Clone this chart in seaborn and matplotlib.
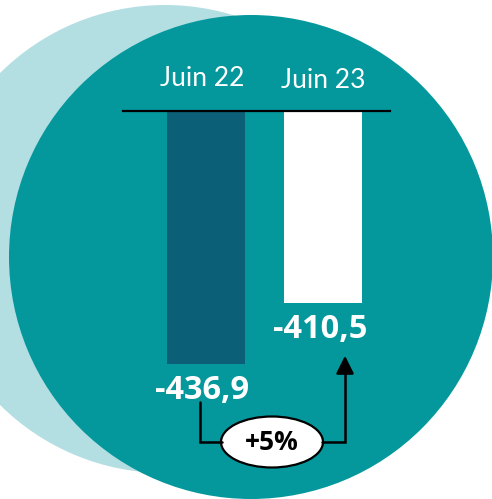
import matplotlib
matplotlib.use("Agg")
import matplotlib.pyplot as plt
from matplotlib.patches import Circle, Ellipse
import seaborn as sns

# data
periods = ["Juin 22", "Juin 23"]
values = [-436.9, -410.5]
value_labels = ["-436,9", "-410,5"]
change_label = "+5%"

TEAL = "#04989c"
LIGHT = "#b3dfe2"
DARK = "#0b5f77"
BOLD_FONT = ["Open Sans", "DejaVu Sans"]

sns.set_theme(style="white")
plt.rcParams["font.family"] = ["Lato", "DejaVu Sans"]

W, H = 492, 499
fig = plt.figure(figsize=(W / 100, H / 100), dpi=100)


def pixel_axes(z):
    a = fig.add_axes([0, 0, 1, 1], zorder=z, label=f"px{z}")
    a.set_xlim(0, W)
    a.set_ylim(H, 0)
    a.axis("off")
    return a


# background circles
bg = pixel_axes(0)
bg.add_patch(Circle((165, 239), 234, color=LIGHT, lw=0))
bg.add_patch(Circle((251, 257), 242, color=TEAL, lw=0))

# bar axes: its top edge is the baseline line
left, right, top, bottom = 123, 390, 111, 480
ax = fig.add_axes([left / W, 1 - bottom / H, (right - left) / W, (bottom - top) / H],
                  zorder=1)
ax.patch.set_alpha(0)
sns.barplot(x=periods, y=values, hue=periods, palette=[DARK, "white"],
            legend=False, width=0.667, saturation=1, linewidth=0, ax=ax)
ax.set_xlim(-0.709, 1.573)
ax.set_ylim(-487.1, -327.4)
for s in ["left", "right", "bottom"]:
    ax.spines[s].set_visible(False)
ax.spines["top"].set_color("black")
ax.spines["top"].set_linewidth(1.6)
ax.spines["top"].set_zorder(5)
ax.set_xticks([])
ax.set_yticks([])
ax.set_xlabel("")
ax.set_ylabel("")

ytop = ax.get_ylim()[1]
for i, (p, v, lab) in enumerate(zip(periods, values, value_labels)):
    dx = -4 if i == 0 else 0
    dy = 33 if i == 0 else 30
    ax.annotate(p, (i, ytop), xytext=(dx, dy), textcoords="offset pixels",
                ha="center", va="center", color="white", fontsize=19,
                annotation_clip=False)
    ax.annotate(lab, (i, v), xytext=(-4 if i == 0 else -3, -26),
                textcoords="offset pixels", ha="center", va="center",
                color="white", fontsize=23.5, fontweight="bold",
                family=BOLD_FONT, annotation_clip=False)

# change connector
fg = pixel_axes(2)
fg.plot([200, 200, 222], [402, 442, 442], color="black", lw=1.8,
        solid_joinstyle="miter")
fg.plot([322, 345, 345], [442, 442, 366], color="black", lw=1.8,
        solid_joinstyle="miter")
fg.annotate("", xy=(345, 353), xytext=(345, 370),
            arrowprops=dict(arrowstyle="-|>,head_width=0.45,head_length=0.9",
                            color="black", lw=1.8))
fg.add_patch(Ellipse((272, 442), 102, 51, facecolor="white",
                     edgecolor="black", lw=1.6))
fg.text(272, 442, change_label, ha="center", va="center", fontsize=19,
        fontweight="bold", family=BOLD_FONT, color="black")

fig.savefig("out.png", dpi=100)
